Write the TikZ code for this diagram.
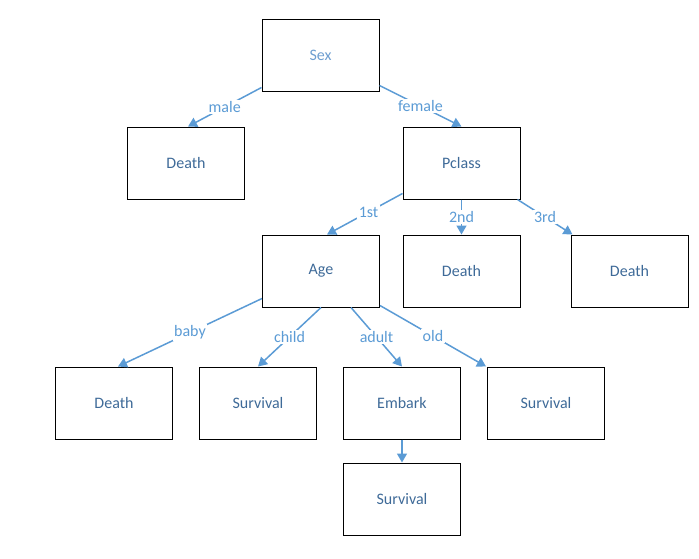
\documentclass[tikz,border=0pt]{standalone}
\usepackage{fontspec}
\setmainfont{Carlito}
\usetikzlibrary{arrows.meta,calc}
\definecolor{linkblue}{RGB}{91,155,213}
\definecolor{textblue}{RGB}{62,106,152}
\definecolor{rootblue}{RGB}{110,158,208}
\begin{document}
\begin{tikzpicture}[x=1pt,y=-1pt,
  box/.style={draw=black,line width=1pt,minimum width=117pt,minimum height=72pt,
    inner sep=0pt,text=textblue,font=\fontsize{16}{19}\selectfont},
  link/.style={draw=linkblue,line width=1.5pt,-{Triangle[length=9pt,width=10pt]}},
  tag/.style={fill=white,text=linkblue,inner sep=1.5pt,font=\fontsize{16}{19}\selectfont}]
\useasboundingbox (0,0) rectangle (699,558);
% tree nodes
\node[box,text=rootblue] (sex) at (320.5,55) {Sex};
\node[box] (d1) at (186,163) {Death};
\node[box] (pclass) at (461.5,163) {Pclass};
\node[box] (age) at (321,271) {Age};
\node[box] (d2) at (461.5,271) {Death};
\node[box] (d3) at (629.5,271) {Death};
\node[box] (d4) at (114,403) {Death};
\node[box] (s1) at (258,403) {Survival};
\node[box] (embark) at (402,403) {Embark};
\node[box] (s2) at (546,403) {Survival};
\node[box] (s3) at (402,499) {Survival};
% branches
\draw[link] ($(sex.south west)+(0,-4)$) -- node[tag]{male} ($(d1.north)+(2,0)$);
\draw[link] ($(sex.south east)+(0,-6)$) -- node[tag]{female} (pclass.north);
\draw[link] ($(pclass.south west)+(0,-6)$) -- node[tag,pos=0.45]{1st} ($(age.north)+(6,0)$);
\draw[link] (pclass.south) -- node[tag]{2nd} (d2.north);
\draw[link] ($(pclass.south east)+(-3,0)$) -- node[tag]{3rd} ($(d3.north west)+(2,0)$);
\draw[link] ($(age.south west)+(0,-9)$) -- node[tag]{baby} ($(d4.north)+(4,0)$);
\draw[link] (age.south) -- node[tag]{child} (s1.north);
\draw[link] ($(age.south)+(30,0)$) -- node[tag]{adult} (embark.north);
\draw[link] ($(age.south east)+(0,-2)$) -- node[tag]{old} ($(s2.north west)+(-1,0)$);
\draw[link] (embark.south) -- (s3.north);
\end{tikzpicture}
\end{document}
